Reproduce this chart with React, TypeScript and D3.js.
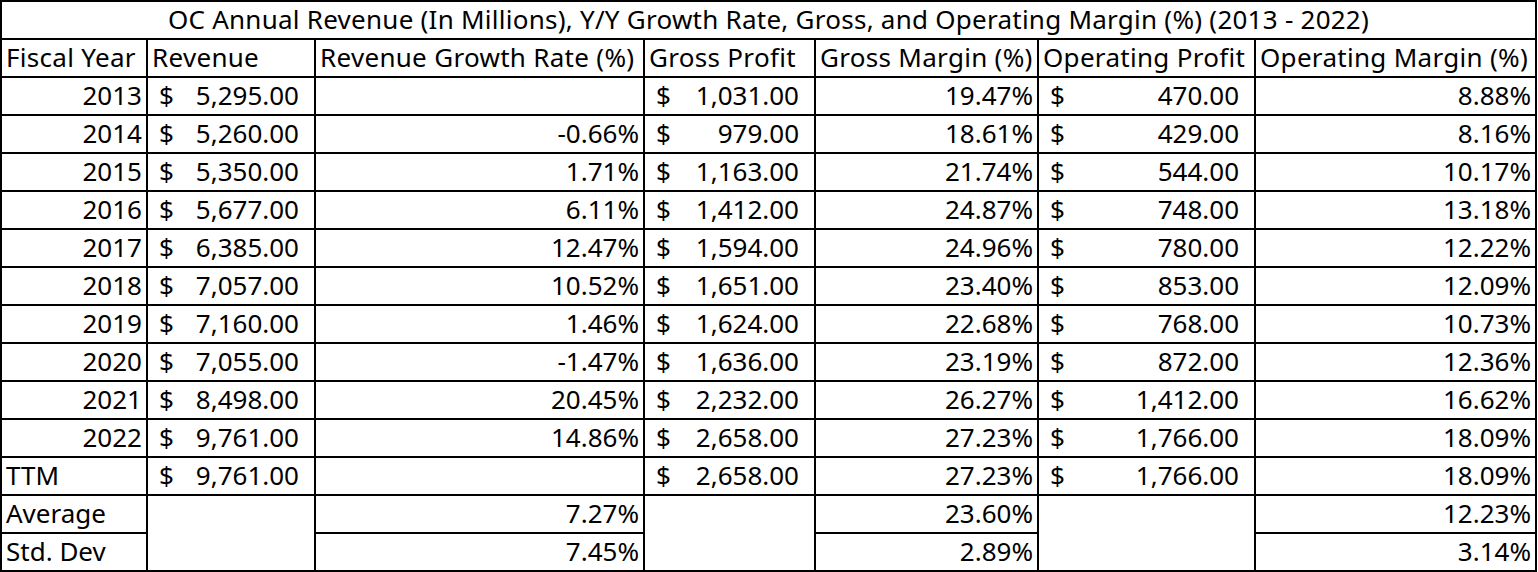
import React from "react";
import * as d3 from "d3";

const title = "OC Annual Revenue (In Millions), Y/Y Growth Rate, Gross, and Operating Margin (%) (2013 - 2022)";
const headers = ["Fiscal Year", "Revenue", "Revenue Growth Rate (%)", "Gross Profit", "Gross Margin (%)", "Operating Profit", "Operating Margin (%)"];
const years = ["2013", "2014", "2015", "2016", "2017", "2018", "2019", "2020", "2021", "2022", "TTM", "Average", "Std. Dev"];
const revenue = [5295, 5260, 5350, 5677, 6385, 7057, 7160, 7055, 8498, 9761, 9761, null, null];
const growth = [null, -0.66, 1.71, 6.11, 12.47, 10.52, 1.46, -1.47, 20.45, 14.86, null, 7.27, 7.45];
const grossProfit = [1031, 979, 1163, 1412, 1594, 1651, 1624, 1636, 2232, 2658, 2658, null, null];
const grossMargin = [19.47, 18.61, 21.74, 24.87, 24.96, 23.4, 22.68, 23.19, 26.27, 27.23, 27.23, 23.6, 2.89];
const opProfit = [470, 429, 544, 748, 780, 853, 768, 872, 1412, 1766, 1766, null, null];
const opMargin = [8.88, 8.16, 10.17, 13.18, 12.22, 12.09, 10.73, 12.36, 16.62, 18.09, 18.09, 12.23, 3.14];

const W = 1538;
const H = 572;
const colEdges = [1, 147, 315, 644, 815, 1038, 1255, 1536];
const FONT = "'Noto Sans', 'Open Sans', sans-serif";
const FS = 26;

const locale = d3.formatLocale({ decimal: ".", thousands: ",", grouping: [3], currency: ["$", ""], minus: "-" });

export default function App() {
  const rowIds = d3.range(15);
  const y = d3.scaleBand<number>().domain(rowIds).range([1, 571]).paddingInner(0).paddingOuter(0);
  const rh = y.bandwidth();
  const money = locale.format(",.2f");
  const pctF = locale.format(".2f");
  const pct = (v: number) => pctF(v) + "%";

  const texts: JSX.Element[] = [];
  const baseline = (r: number) => (y(r) as number) + rh / 2 + 8.5;

  texts.push(
    <text key="title" x={(colEdges[0] + colEdges[7]) / 2} y={baseline(0)} textAnchor="middle" letterSpacing={0.25}>{title}</text>
  );
  headers.forEach((h, i) => {
    texts.push(<text key={"h" + i} x={colEdges[i] + 5} y={baseline(1)} letterSpacing={0.3}>{h}</text>);
  });

  const moneyCols = [
    { c: 1, vals: revenue },
    { c: 3, vals: grossProfit },
    { c: 5, vals: opProfit },
  ];
  const pctCols = [
    { c: 2, vals: growth },
    { c: 4, vals: grossMargin },
    { c: 6, vals: opMargin },
  ];

  years.forEach((yr, i) => {
    const r = i + 2;
    const isYear = /^\d+$/.test(yr);
    texts.push(
      <text key={"y" + i} x={isYear ? colEdges[1] - 5 : colEdges[0] + 5} y={baseline(r)} textAnchor={isYear ? "end" : "start"}>{yr}</text>
    );
    moneyCols.forEach(({ c, vals }) => {
      const v = vals[i];
      if (v == null) return;
      texts.push(<text key={"d" + c + "-" + i} x={colEdges[c] + 12} y={baseline(r)}>$</text>);
      texts.push(<text key={"m" + c + "-" + i} x={colEdges[c + 1] - 16} y={baseline(r)} textAnchor="end">{money(v)}</text>);
    });
    pctCols.forEach(({ c, vals }) => {
      const v = vals[i];
      if (v == null) return;
      texts.push(<text key={"p" + c + "-" + i} x={colEdges[c + 1] - 5} y={baseline(r)} textAnchor="end">{pct(v)}</text>);
    });
  });

  const lines: JSX.Element[] = [];
  for (let r = 1; r < 15; r++) {
    const yy = y(r) as number;
    if (r === 14) {
      const segs = [[0, 1], [2, 3], [4, 5], [6, 7]];
      segs.forEach(([a, b], k) =>
        lines.push(<line key={"hs" + k} x1={colEdges[a]} x2={colEdges[b]} y1={yy} y2={yy} />)
      );
    } else {
      lines.push(<line key={"h" + r} x1={colEdges[0]} x2={colEdges[7]} y1={yy} y2={yy} />);
    }
  }
  for (let c = 1; c < 7; c++) {
    lines.push(<line key={"v" + c} x1={colEdges[c]} x2={colEdges[c]} y1={y(1) as number} y2={571} />);
  }

  return (
    <svg width={W} height={H} style={{ position: "absolute", left: 0, top: 0, background: "#fff" }}>
      <rect x={0} y={0} width={W} height={H} fill="#fff" />
      <g stroke="#000" strokeWidth={2} fill="none">
        {lines}
        <rect x={colEdges[0]} y={1} width={colEdges[7] - colEdges[0]} height={570} />
      </g>
      <g fontFamily={FONT} fontSize={FS} fill="#000">{texts}</g>
    </svg>
  );
}
